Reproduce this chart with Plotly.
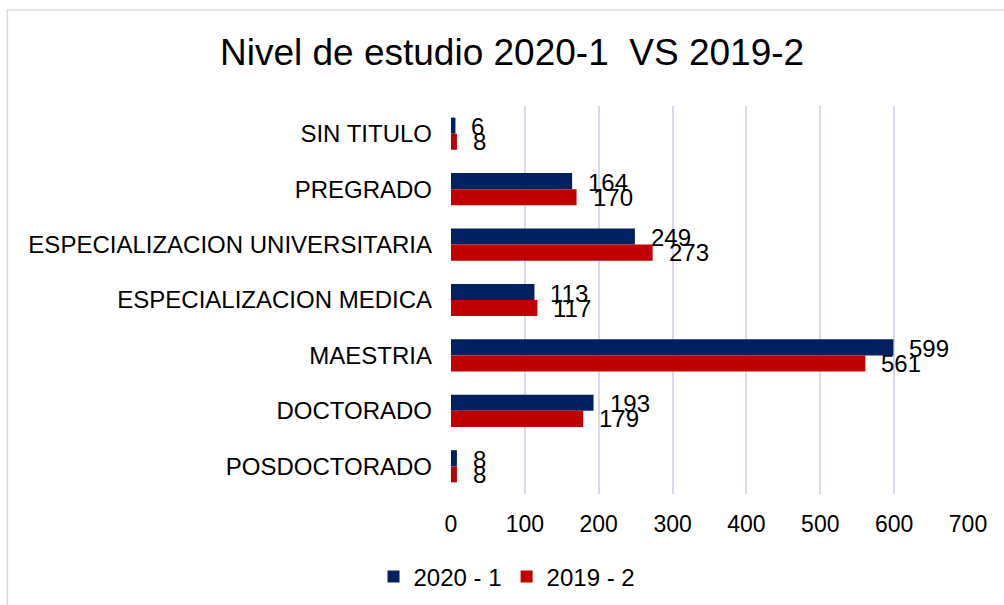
import plotly.graph_objects as go

categories = ["SIN TITULO", "PREGRADO", "ESPECIALIZACION UNIVERSITARIA",
              "ESPECIALIZACION MEDICA", "MAESTRIA", "DOCTORADO", "POSDOCTORADO"]
serie_2020_1 = [6, 164, 249, 113, 599, 193, 8]
serie_2019_2 = [8, 170, 273, 117, 561, 179, 8]
series_names = ["2020 - 1", "2019 - 2"]
x_ticks = [0, 100, 200, 300, 400, 500, 600, 700]

NAVY = "#002060"
RED = "#C00000"
GRID = "#D9D9EC"
FONT = "Liberation Sans, Arial, sans-serif"

fig = go.Figure()
fig.add_trace(go.Bar(y=categories, x=serie_2020_1, name=series_names[0], orientation="h",
                     marker=dict(color=NAVY, line=dict(width=0))))
fig.add_trace(go.Bar(y=categories, x=serie_2019_2, name=series_names[1], orientation="h",
                     marker=dict(color=RED, line=dict(width=0))))

# data labels
for vals, shift in ((serie_2020_1, 7), (serie_2019_2, -8)):
    for c, v in zip(categories, vals):
        fig.add_annotation(x=v, y=c, text=str(v), showarrow=False, xanchor="left",
                           yanchor="middle", xshift=14, yshift=shift,
                           font=dict(size=24, color="black", family=FONT))

W, H = 1004, 605
L, R, T, B = 450.5, 35.5, 106, 111
pw, ph = W - L - R, H - T - B
# outer light border
fig.add_shape(type="rect", xref="paper", yref="paper",
              x0=(6 - L) / pw, x1=(1010 - L) / pw,
              y0=(H - B - 612) / ph, y1=(H - B - 10) / ph,
              line=dict(color=GRID, width=1.5), fillcolor="rgba(0,0,0,0)", layer="below")

fig.update_layout(
    width=W, height=H,
    margin=dict(l=L, r=R, t=T, b=B),
    paper_bgcolor="white", plot_bgcolor="white",
    barmode="group", bargap=0.42, bargroupgap=0,
    font=dict(family=FONT, size=24, color="black"),
    title=dict(text="Nivel de estudio 2020-1  VS 2019-2", x=0.51, xref="container",
               y=1 - 52 / H, yref="container", xanchor="center", yanchor="middle",
               font=dict(size=37, family=FONT, color="black")),
    xaxis=dict(range=[0, 700], tickvals=x_ticks, showgrid=True, gridcolor=GRID, gridwidth=1.5,
               zeroline=False, showline=False, ticks="", ticklabelstandoff=14,
               tickfont=dict(size=23)),
    yaxis=dict(autorange="reversed", showgrid=False, zeroline=False, showline=False,
               ticks="", ticklabelstandoff=18, tickfont=dict(size=24)),
    legend=dict(orientation="h", xref="container", yref="container", x=0.505, y=1 - 577 / H,
                xanchor="center", yanchor="middle", font=dict(size=24),
                traceorder="normal", itemwidth=30),
    showlegend=True,
)

fig.write_html("out.html", config={"displayModeBar": False},
               post_script="document.body.style.margin='0';document.body.style.overflow='hidden';")
